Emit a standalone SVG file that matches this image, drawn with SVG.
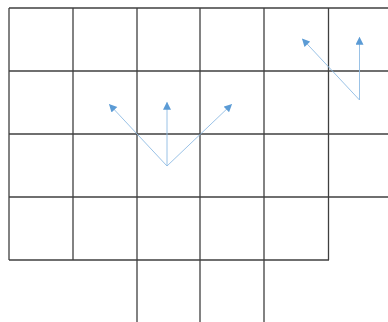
<svg xmlns="http://www.w3.org/2000/svg" width="388" height="322" viewBox="0 0 388 322">
<defs>
<style>
.g{stroke:#3f3f3f;stroke-width:1.3;fill:none}
.a{stroke:#8fbbe3;stroke-width:0.9;fill:none;marker-end:url(#ah)}
</style>
<marker id="ah" viewBox="0 0 10 10" refX="9" refY="5" markerWidth="9" markerHeight="8" markerUnits="userSpaceOnUse" orient="auto">
<path d="M0,0 L10,5 L0,10 Z" fill="#5b9bd5"/>
</marker>
</defs>
<rect width="388" height="322" fill="#ffffff"/>
<g id="grid">
<line class="g" x1="9" y1="8" x2="388" y2="8"/>
<line class="g" x1="9" y1="71" x2="388" y2="71"/>
<line class="g" x1="9" y1="134" x2="388" y2="134"/>
<line class="g" x1="9" y1="197" x2="388" y2="197"/>
<line class="g" x1="9" y1="260" x2="329" y2="260"/>
<line class="g" x1="9" y1="8" x2="9" y2="260"/>
<line class="g" x1="73" y1="8" x2="73" y2="260"/>
<line class="g" x1="137" y1="8" x2="137" y2="322"/>
<line class="g" x1="200" y1="8" x2="200" y2="322"/>
<line class="g" x1="264" y1="8" x2="264" y2="322"/>
<line class="g" x1="328.5" y1="8" x2="328.5" y2="260"/>
</g>
<g id="connectors">
<line class="a" x1="167" y1="166" x2="109.5" y2="104.5"/>
<line class="a" x1="167" y1="166" x2="167" y2="102.5"/>
<line class="a" x1="167" y1="166" x2="231.5" y2="104.5"/>
<line class="a" x1="359.5" y1="100" x2="302.5" y2="39"/>
<line class="a" x1="359.5" y1="100" x2="359.5" y2="37.5"/>
</g>
</svg>
